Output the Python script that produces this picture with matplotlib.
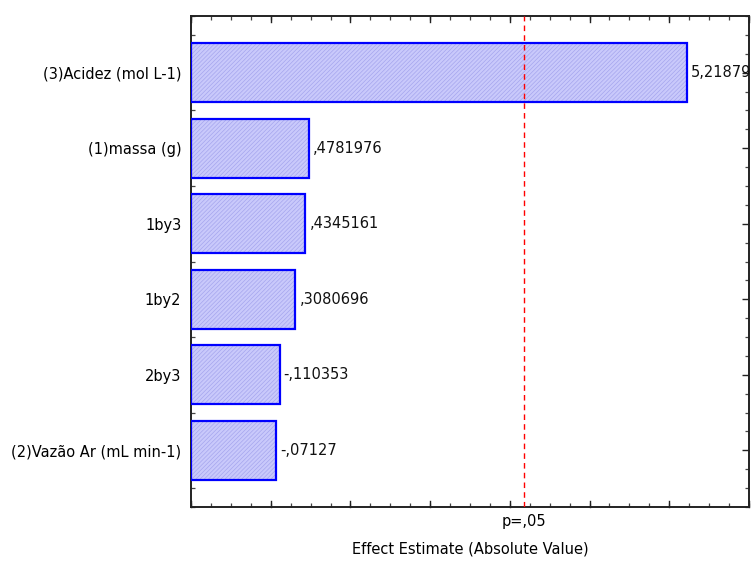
import matplotlib
matplotlib.use("Agg")
import matplotlib.pyplot as plt
from matplotlib.ticker import MultipleLocator, FixedLocator, FixedFormatter

# Pareto chart of effects
factors = ["(3)Acidez (mol L-1)", "(1)massa (g)", "1by3", "1by2", "2by3",
           "(2)Vazão Ar (mL min-1)"]
effects = [5.21879, 0.4781976, 0.4345161, 0.3080696, -0.110353, -0.07127]
effect_labels = ["5,21879", ",4781976", ",4345161", ",3080696", "-,110353", "-,07127"]
p_crit = 3.182446
p_label = "p=,05"

plt.rcParams["font.family"] = ["DejaVu Sans"]
plt.rcParams["hatch.linewidth"] = 0.5

fig = plt.figure(figsize=(7.52, 5.63), dpi=100)
ax = fig.add_axes([0.254, 0.0995, 0.742, 0.872])

xmin, xmax = -1.0, 6.0
ypos = list(range(len(factors)))
widths = [abs(v) - xmin for v in effects]

# hatched fill
ax.barh(ypos, widths, left=xmin, height=0.78, color="#c9c9fb",
        edgecolor="#a6a6ee", hatch="////////", linewidth=0, zorder=2)
# outline
ax.barh(ypos, widths, left=xmin, height=0.78, fill=False,
        edgecolor="#0000ff", linewidth=1.6, zorder=3)

for y, v, lab in zip(ypos, effects, effect_labels):
    ax.annotate(lab, xy=(abs(v), y), xytext=(3, 0), textcoords="offset points",
                ha="left", va="center", fontsize=10.5, color="#111111",
                annotation_clip=False, zorder=4)

ax.axvline(p_crit, color="#ff0000", linestyle=(0, (4, 3)), linewidth=1.0, zorder=4)

ax.set_xlim(xmin, xmax)
ax.set_ylim(len(factors) - 0.25, -0.75)

ax.set_yticks(ypos)
ax.set_yticklabels(factors, fontsize=10.5)
ax.yaxis.set_minor_locator(MultipleLocator(0.25))

ax.xaxis.set_major_locator(FixedLocator([p_crit]))
ax.xaxis.set_major_formatter(FixedFormatter([p_label]))
ax.xaxis.set_minor_locator(MultipleLocator(0.25))
# unit ticks drawn slightly longer
for xv in range(int(xmin), int(xmax) + 1):
    ax.plot([xv, xv], [0, 0.012], transform=ax.get_xaxis_transform(),
            color="#222222", lw=1.0, clip_on=False, zorder=5)
    ax.plot([xv, xv], [1, 0.988], transform=ax.get_xaxis_transform(),
            color="#222222", lw=1.0, clip_on=False, zorder=5)

ax.tick_params(axis="x", which="major", direction="in", length=0, pad=5,
               labelsize=10.5, top=True)
ax.tick_params(axis="x", which="minor", direction="in", length=3, width=0.9,
               top=True, color="#444444")
ax.tick_params(axis="y", which="major", direction="in", length=5, width=1.0,
               right=True, pad=7, color="#222222")
ax.tick_params(axis="y", which="minor", direction="in", length=3, width=0.9,
               right=True, color="#444444")

for s in ax.spines.values():
    s.set_linewidth(1.4)
    s.set_color("#222222")

ax.set_xlabel("Effect Estimate (Absolute Value)", fontsize=10.5, labelpad=9)

fig.savefig("out.png", dpi=100, facecolor="white")
